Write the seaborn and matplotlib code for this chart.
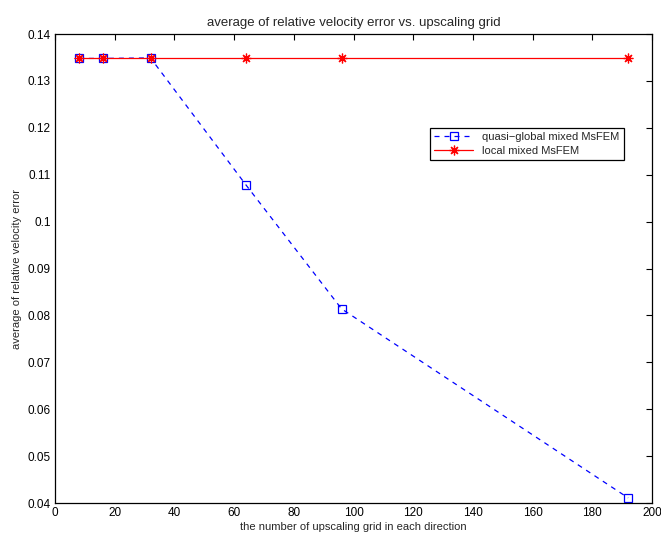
import matplotlib
matplotlib.use("Agg")
import matplotlib.pyplot as plt
import numpy as np
import seaborn as sns

# MATLAB-like plain style
sns.set_style("white")
plt.rcParams['font.family'] = ['Liberation Sans', 'DejaVu Sans']

# data
grid = [8, 16, 32, 64, 96, 192]
quasi_global = [0.1348, 0.1348, 0.1349, 0.1078, 0.0814, 0.0411]
local = [0.1349, 0.1349, 0.1349, 0.1349, 0.1349, 0.1349]
series_names = ['quasi\u2212global mixed MsFEM', 'local mixed MsFEM']

fig = plt.figure(figsize=(6.61, 5.47), dpi=100)
ax = fig.add_axes([0.0832, 0.0804, 0.9032, 0.8574])

# blue dashed with open squares
sns.lineplot(x=grid, y=quasi_global, color='#0000ff', linestyle=(0, (4, 4)),
             linewidth=0.9, marker='s', markersize=5.5, markerfacecolor='none',
             markeredgecolor='#0000ff', markeredgewidth=0.9,
             label=series_names[0], ax=ax)
# red solid with MATLAB-style asterisks (+ and x overlaid)
sns.lineplot(x=grid, y=local, color='#ff0000', linestyle='-',
             linewidth=0.9, marker=(8, 2, 0), markersize=7,
             markeredgecolor='#ff0000', markeredgewidth=0.9,
             label=series_names[1], ax=ax)

ax.set_xlim(0, 200)
ax.set_ylim(0.04, 0.14)
ax.set_xticks(np.arange(0, 201, 20))
ax.set_yticks(np.round(np.arange(0.04, 0.1401, 0.01), 2))
ax.set_yticklabels(['0.04', '0.05', '0.06', '0.07', '0.08', '0.09', '0.1',
                    '0.11', '0.12', '0.13', '0.14'])
ax.tick_params(direction='in', top=True, right=True, length=4, width=0.8,
               labelsize=8.5, colors='black', pad=3)
for s in ax.spines.values():
    s.set_color('black')
    s.set_linewidth(0.9)

ax.set_title('average of relative velocity error vs. upscaling grid', fontsize=9.5, pad=6)
ax.set_xlabel('the number of upscaling grid in each direction', fontsize=8, labelpad=2)
ax.set_ylabel('average of relative velocity error', fontsize=8, labelpad=4)

leg = ax.legend(loc='upper left', bbox_to_anchor=(0.628, 0.80), fontsize=8,
                frameon=True, fancybox=False, edgecolor='black', framealpha=1,
                borderaxespad=0, handlelength=3.5, borderpad=0.4, labelspacing=0.3)
leg.get_frame().set_linewidth(0.9)

fig.savefig('out.png', dpi=100)
